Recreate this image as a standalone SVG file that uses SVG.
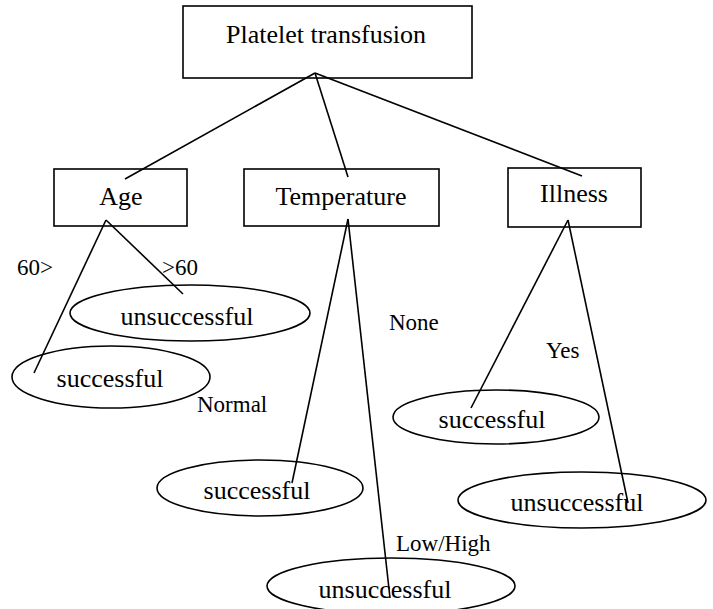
<svg xmlns="http://www.w3.org/2000/svg" width="713" height="609" viewBox="0 0 713 609">
<style>
.box{fill:#fff;stroke:#000;stroke-width:1.6}
.ell{fill:none;stroke:#000;stroke-width:1.6}
.t{font-family:"Liberation Serif","Times New Roman",serif;font-size:26px;fill:#000;text-anchor:middle}
.l{font-family:"Liberation Serif","Times New Roman",serif;font-size:23px;fill:#000}
#connectors line{stroke:#000;stroke-width:1.6}
</style>
<rect width="713" height="609" fill="#fff"/>
<g id="n-root"><rect class="box" x="183" y="6" width="289" height="72"/><text class="t" x="326" y="43">Platelet transfusion</text></g>
<g id="n-age"><rect class="box" x="54" y="169" width="133" height="57"/><text class="t" x="121" y="205">Age</text></g>
<g id="n-temp"><rect class="box" x="244" y="169" width="195" height="57"/><text class="t" x="341" y="205">Temperature</text></g>
<g id="n-ill"><rect class="box" x="508" y="168" width="133" height="59"/><text class="t" x="574" y="202">Illness</text></g>
<g id="n-unsucc1"><ellipse class="ell" cx="190" cy="313" rx="120" ry="28"/><text class="t" x="187" y="325">unsuccessful</text></g>
<g id="n-succ1"><ellipse class="ell" cx="111" cy="377" rx="99" ry="31"/><text class="t" x="110" y="387">successful</text></g>
<g id="n-succ2"><ellipse class="ell" cx="260" cy="488" rx="103" ry="28"/><text class="t" x="257" y="499">successful</text></g>
<g id="n-unsucc3"><ellipse class="ell" cx="391" cy="586" rx="124" ry="28"/><text class="t" x="385" y="598">unsuccessful</text></g>
<g id="n-succ3"><ellipse class="ell" cx="496" cy="417" rx="103" ry="27"/><text class="t" x="492" y="428">successful</text></g>
<g id="n-unsucc4"><ellipse class="ell" cx="582" cy="500" rx="124" ry="28"/><text class="t" x="577" y="511">unsuccessful</text></g>
<g id="connectors">
<line x1="315" y1="73" x2="125" y2="179"/>
<line x1="315" y1="73" x2="348" y2="177"/>
<line x1="315" y1="73" x2="582" y2="176"/>
<line x1="106" y1="220" x2="34" y2="373"/>
<line x1="106" y1="220" x2="183" y2="294"/>
<line x1="348" y1="219" x2="292" y2="483"/>
<line x1="348" y1="219" x2="390" y2="598"/>
<line x1="568" y1="220" x2="471" y2="408"/>
<line x1="568" y1="220" x2="628" y2="503"/>
</g>
<g id="labels">
<text class="l" x="17" y="275">60&gt;</text>
<text class="l" x="162" y="275">&gt;60</text>
<text class="l" x="197" y="412">Normal</text>
<text class="l" x="389" y="330">None</text>
<text class="l" x="546" y="358">Yes</text>
<text class="l" x="396" y="551">Low/High</text>
</g>
</svg>
